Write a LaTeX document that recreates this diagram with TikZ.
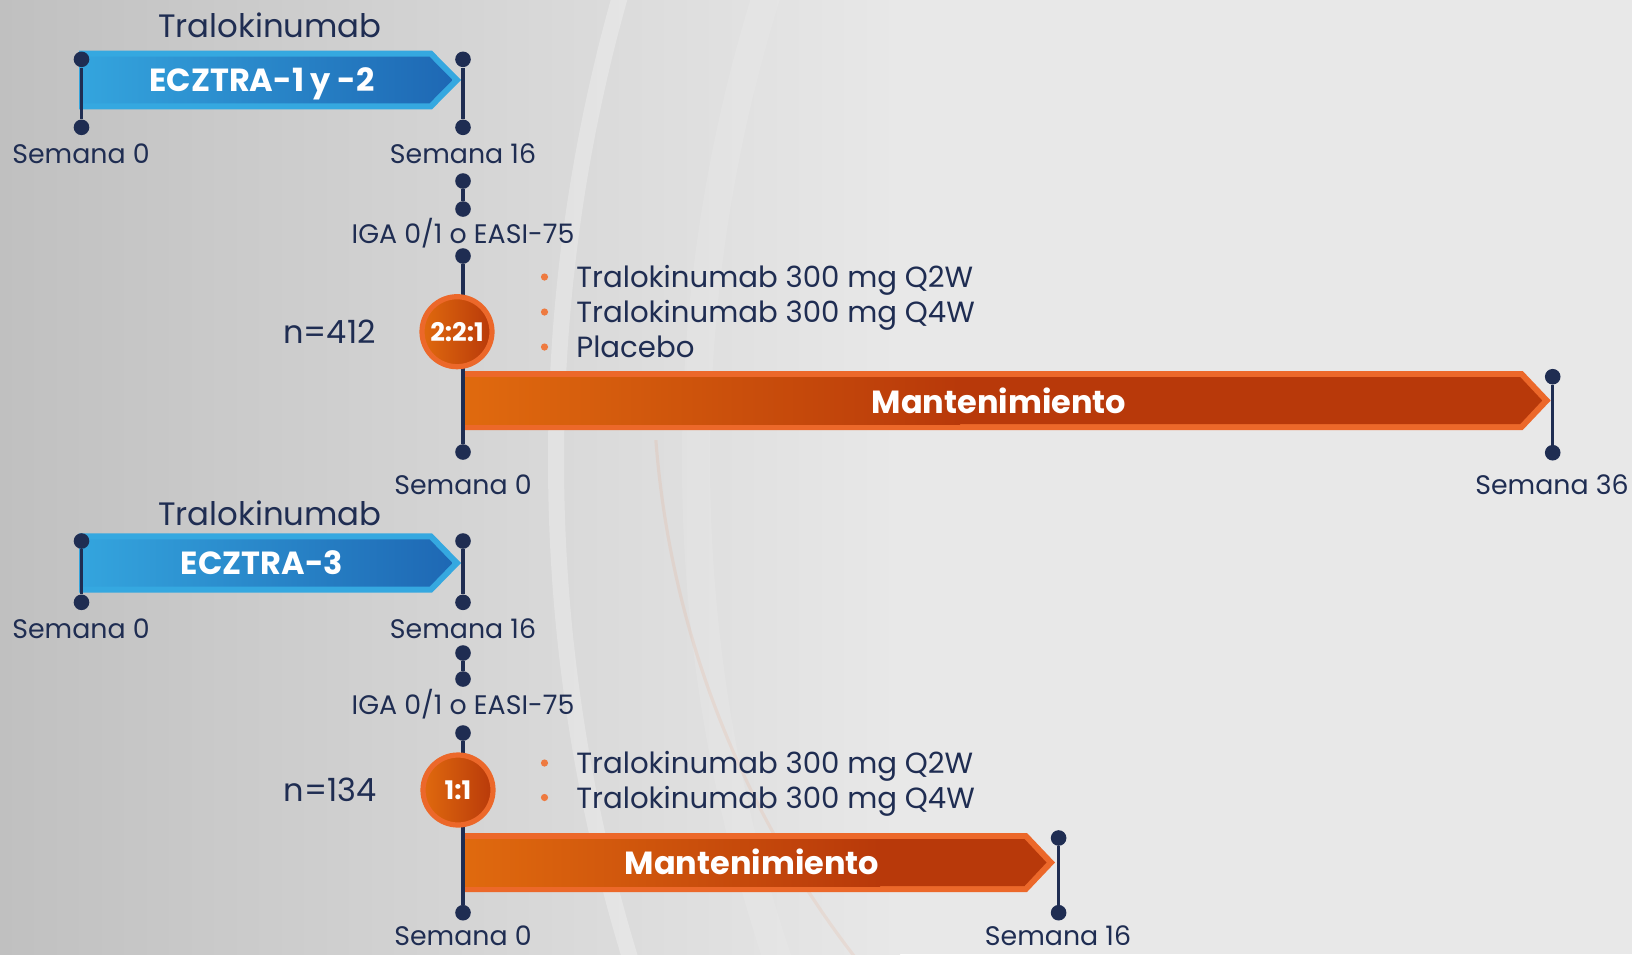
\documentclass[tikz,border=0pt]{standalone}
\usepackage{fontspec}
\setmainfont{Poppins}
\usetikzlibrary{calc}
\definecolor{navy}{RGB}{31,45,82}
\definecolor{bgL}{RGB}{192,192,192}
\definecolor{bgR}{RGB}{232,232,232}
\definecolor{blueBd}{RGB}{53,168,224}
\definecolor{blueL}{RGB}{52,165,222}
\definecolor{blueR}{RGB}{30,104,180}
\definecolor{orBd}{RGB}{236,104,42}
\definecolor{orL}{RGB}{224,106,14}
\definecolor{orR}{RGB}{184,57,10}
\definecolor{bulletOr}{RGB}{238,122,64}
\tikzset{
  dot/.style={circle, fill=navy, inner sep=0pt, minimum size=7.8pt},
  vline/.style={draw=navy, line width=1.75pt},
  lbl/.style={text=navy, inner sep=0pt, font=\fontsize{13.4}{16}\selectfont},
  ttl/.style={text=navy, inner sep=0pt, font=\fontsize{16.2}{18}\selectfont},
  nlbl/.style={text=navy, inner sep=0pt, font=\fontsize{16}{18}\selectfont},
  item/.style={text=navy, inner sep=0pt, anchor=base west, font=\fontsize{14.6}{17}\selectfont},
  bul/.style={circle, fill=bulletOr, inner sep=0pt, minimum size=3.6pt},
  bartxt/.style={text=white, inner sep=0pt, font=\fontsize{16}{18}\selectfont\bfseries},
  ratio/.style={circle, draw=orBd, line width=2.6pt, minimum size=35pt, inner sep=0pt,
     left color=orL, right color=orR, text=white, font=\fontsize{12.8}{14}\selectfont\bfseries},
}
\begin{document}
\begin{tikzpicture}[x=0.5pt,y=-0.5pt]
\useasboundingbox (0,0) rectangle (1632,954);
% background
\fill[bgR] (0,0) rectangle (1632,954);
\shade[left color=bgL, right color=bgR] (0,0) rectangle (900,954);
\begin{scope}
\clip (0,0) rectangle (1632,954);
\draw[white, opacity=0.26, line width=8pt] (2256,460) circle (1700);
\draw[white, opacity=0.10, line width=14pt] (2256,460) circle (1560);
\end{scope}
\begin{scope}
\clip (600,440) rectangle (950,954);
\draw[bulletOr, opacity=0.10, line width=1.6pt] (1622,365) circle (969);
\end{scope}

% ===== Section 1 =====
\node[ttl] (title1) at (270,25.8) {Tralokinumab};
\fill[blueBd] (79,50.7) -- (432,50.7) -- (461,80) -- (432,109.3) -- (79,109.3) -- cycle;
\shade[left color=blueL, right color=blueR] (79,56.7) -- (429.5,56.7) -- (452.5,80) -- (429.5,103.3) -- (79,103.3) -- cycle;
\node[bartxt, anchor=base] (e1) at (262,91.3) {ECZTRA-1 y -2};
\node[dot] (s1a) at (81.5,59.3) {};
\node[dot] (s1b) at (81.5,127.3) {};
\node[dot] (s1c) at (463,59.3) {};
\node[dot] (s1d) at (463,127.3) {};
\draw[vline] (s1a) -- (s1b);
\draw[vline] (s1c) -- (s1d);
\node[lbl] (w1a) at (81,153.3) {Semana 0};
\node[lbl] (w1b) at (463,153.3) {Semana 16};
\node[dot] (k1a) at (463,181) {};
\node[dot] (k1b) at (463,209) {};
\draw[vline] (k1a) -- (k1b);
\node[lbl] (iga1) at (463,233) {IGA 0/1 o EASI-75};
% maintenance bar 1
\fill[orBd] (463,371) -- (1522.7,371) -- (1550.7,400.5) -- (1522.7,430) -- (463,430) -- cycle;
\fill[orR] (463,377) -- (1520.2,377) -- (1542.2,400.5) -- (1520.2,424) -- (463,424) -- cycle;
\shade[left color=orL, right color=orR] (463,377) rectangle (960,424);
\node[bartxt] (mt1) at (999,400.5) {Mantenimiento};
\node[dot] (m1a) at (463,256) {};
\node[dot] (m1b) at (463,452) {};
\draw[vline] (m1a) -- (m1b);
\node[ratio] (r1) at (457,331.7) {2:2:1};
\node[nlbl] (n1) at (329.5,332) {n=412};
\node[bul] (b11) at (544.5,277) {};
\node[bul] (b12) at (544.5,312) {};
\node[bul] (b13) at (544.5,347) {};
\node[item] (i11) at (576,287) {Tralokinumab 300 mg Q2W};
\node[item] (i12) at (576,322) {Tralokinumab 300 mg Q4W};
\node[item] (i13) at (576,357) {Placebo};
\node[dot] (e1a) at (1552.7,376.7) {};
\node[dot] (e1b) at (1552.7,452.7) {};
\draw[vline] (e1a) -- (e1b);
\node[lbl] (w1c) at (463,485) {Semana 0};
\node[lbl] (w1d) at (1552,485) {Semana 36};

% ===== Section 2 =====
\node[ttl] (title2) at (270,513) {Tralokinumab};
\fill[blueBd] (79,533.3) -- (432,533.3) -- (461,563) -- (432,592.7) -- (79,592.7) -- cycle;
\shade[left color=blueL, right color=blueR] (79,539.3) -- (429.5,539.3) -- (452.5,563) -- (429.5,586.7) -- (79,586.7) -- cycle;
\node[bartxt] (e2) at (262,563) {ECZTRA-3};
\node[dot] (s2a) at (81.5,541) {};
\node[dot] (s2b) at (81.5,602.3) {};
\node[dot] (s2c) at (463,541) {};
\node[dot] (s2d) at (463,602.3) {};
\draw[vline] (s2a) -- (s2b);
\draw[vline] (s2c) -- (s2d);
\node[lbl] (w2a) at (81,628.3) {Semana 0};
\node[lbl] (w2b) at (463,628.3) {Semana 16};
\node[dot] (k2a) at (463,653) {};
\node[dot] (k2b) at (463,679) {};
\draw[vline] (k2a) -- (k2b);
\node[lbl] (iga2) at (463,704.6) {IGA 0/1 o EASI-75};
% maintenance bar 2
\fill[orBd] (463,833) -- (1027,833) -- (1055,862.5) -- (1027,892) -- (463,892) -- cycle;
\fill[orR] (463,839) -- (1024.5,839) -- (1046.5,862.5) -- (1024.5,886) -- (463,886) -- cycle;
\shade[left color=orL, right color=orR] (463,839) rectangle (880,886);
\node[bartxt] (mt2) at (752,862) {Mantenimiento};
\node[dot] (m2a) at (463,733) {};
\node[dot] (m2b) at (463,912.7) {};
\draw[vline] (m2a) -- (m2b);
\node[ratio] (r2) at (458,790) {1:1};
\node[nlbl] (n2) at (330,790) {n=134};
\node[bul] (b21) at (544.5,763) {};
\node[bul] (b22) at (544.5,797.5) {};
\node[item] (i21) at (576,773.5) {Tralokinumab 300 mg Q2W};
\node[item] (i22) at (576,808) {Tralokinumab 300 mg Q4W};
\node[dot] (e2a) at (1058.6,838) {};
\node[dot] (e2b) at (1058.6,912.7) {};
\draw[vline] (e2a) -- (e2b);
\node[lbl] (w2c) at (463,936) {Semana 0};
\node[lbl] (w2d) at (1058,936) {Semana 16};
\end{tikzpicture}
\end{document}
